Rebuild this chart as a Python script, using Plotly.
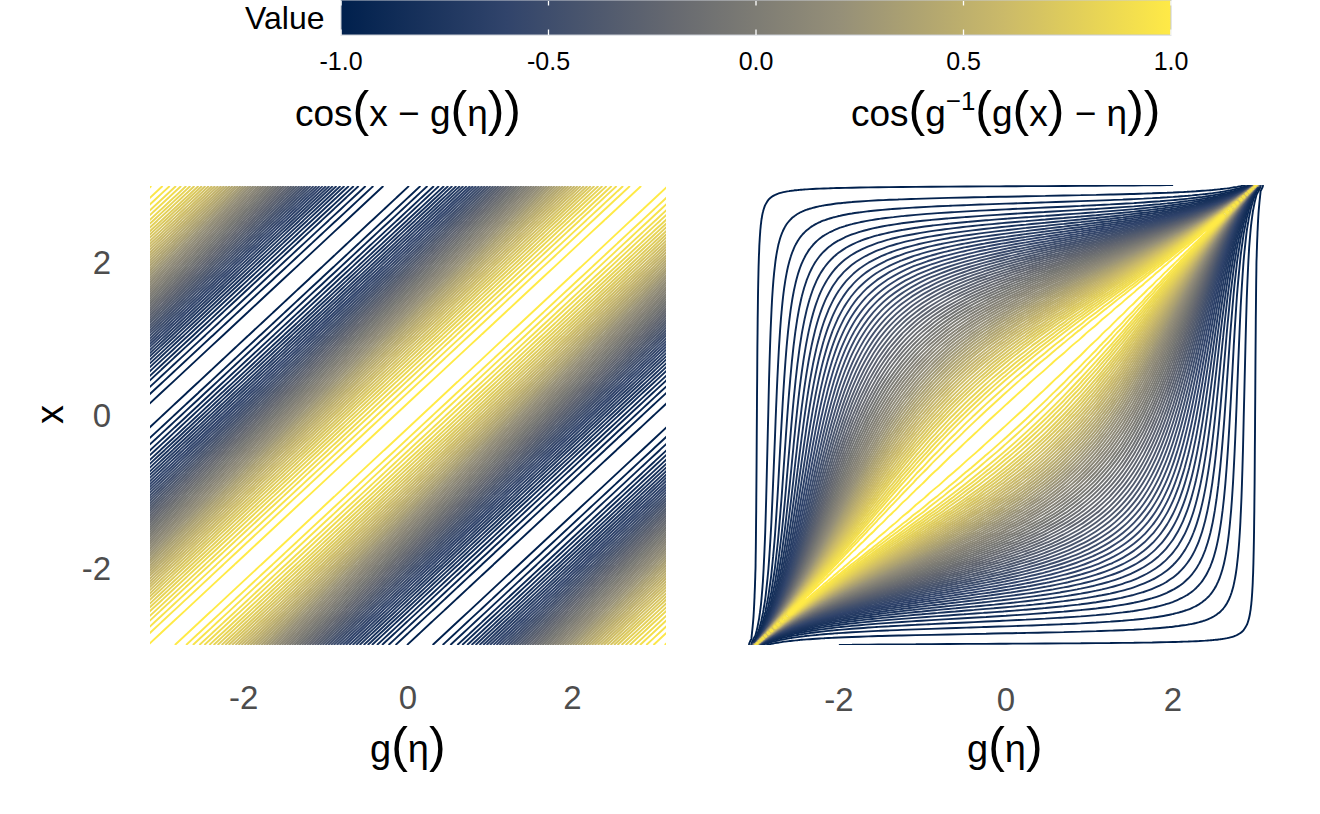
import plotly.graph_objects as go

# ---- values ----
civ_colors = ["#00204D", "#31446B", "#666970", "#958F78", "#CBBA69", "#FFEA46"]
bar_ticks = [-1.0, -0.5, 0.0, 0.5, 1.0]
bar_labels = ["-1.0", "-0.5", "0.0", "0.5", "1.0"]
bar_limits = [-1, 1]
axis_ticks = [-2, 0, 2]
axis_labels = ["-2", "0", "2"]

# contour levels
level_start = -0.9875
level_end = 0.99
level_step = 0.03036

# left panel: value across the diagonal bands, one step = 0.15 of (x - g)
band_profile = [1.0, 0.9888, 0.9553, 0.9004, 0.8253, 0.7317, 0.6216, 0.4976, 0.3624, 0.219,
                0.0707, -0.0791, -0.2272, -0.3702, -0.5048, -0.6282, -0.7374, -0.8301, -0.9041, -0.9578,
                -0.99, -1.0, -0.9875, -0.9502, -0.8968, -0.8205, -0.7259, -0.615, -0.4903, -0.3546,
                -0.2108, -0.0623, 0.0875, 0.2354, 0.378, 0.5121, 0.6347, 0.7431, 0.8347, 0.9076,
                0.9602, 0.9911]
left_g = [-3.15, -3.0, -2.85, -2.7, -2.55, -2.4, -2.25, -2.1, -1.95, -1.8, -1.65, -1.5, -1.35, -1.2,
          -1.05, -0.9, -0.75, -0.6, -0.45, -0.3, -0.15, 0.0, 0.15, 0.3, 0.45, 0.6, 0.75, 0.9, 1.05,
          1.2, 1.35, 1.5, 1.65, 1.8, 1.95, 2.1, 2.25, 2.4, 2.55, 2.7, 2.85, 3.0, 3.15]
left_x = left_g[1:-1]

# right panel: grid positions on both axes (mirrored about 0) and their place on the stretched scale
right_side = [0.0, 0.2389, 0.4712, 0.6911, 0.895, 1.0808, 1.248, 1.3973, 1.53, 1.6477, 1.7521, 1.845, 1.9276,
              2.0016, 2.0678, 2.1274, 2.1814, 2.2304, 2.2746, 2.315, 2.352, 2.386, 2.4172, 2.4466, 2.4734,
              2.4981, 2.5212, 2.5428, 2.563, 2.5818, 2.5998, 2.647, 2.6866, 2.7308, 2.7672, 2.8114, 2.8462,
              2.8826, 2.9112, 2.934, 2.957, 2.9802, 3.0, 3.049, 3.0896]
right_steps = list(range(31)) + [33, 36, 40, 44, 50, 56, 64, 72, 80, 90, 103, 118, 180, 320]
# value against the distance between two grid positions on that scale
ridge_profile = [1.0, 0.975, 0.8911, 0.7705, 0.6255, 0.4706, 0.3172, 0.1726, 0.0408, -0.0769,
                 -0.1803, -0.2707, -0.3493, -0.4176, -0.4768, -0.5283, -0.5733, -0.6125, -0.647, -0.6773,
                 -0.7041, -0.7279, -0.7491, -0.7679, -0.7848, -0.8, -0.8137, -0.826, -0.8373, -0.8474,
                 -0.8567, -0.8652, -0.873, -0.8801, -0.8867, -0.8927, -0.8983, -0.9034, -0.9082, -0.9127,
                 -0.9168, -0.9207, -0.9242, -0.9276, -0.9307, -0.9337, -0.9364, -0.939, -0.9415, -0.9438,
                 -0.9459, -0.948, -0.9499, -0.9517, -0.9535, -0.9551, -0.9567, -0.9581, -0.9595, -0.9609,
                 -0.9621, -0.9633, -0.9645, -0.9656, -0.9667, -0.9677, -0.9686, -0.9695, -0.9704, -0.9713,
                 -0.9721, -0.9728, -0.9736, -0.9743, -0.975, -0.9756, -0.9762, -0.9768, -0.9774, -0.978,
                 -0.9785, -0.9791, -0.9796, -0.98, -0.9805, -0.981, -0.9814, -0.9818, -0.9822, -0.9826,
                 -0.983, -0.9834, -0.9837, -0.9841, -0.9844, -0.9847, -0.985, -0.9854, -0.9856, -0.9859,
                 -0.9862, -0.9865, -0.9867, -0.987, -0.9872, -0.9875, -0.9877, -0.9879, -0.9882, -0.9884,
                 -0.9886, -0.9888, -0.989, -0.9892, -0.9894, -0.9896, -0.9897, -0.9899, -0.9901, -0.9902,
                 -0.9904, -0.9906, -0.9907, -0.9909, -0.991, -0.9912, -0.9913, -0.9914, -0.9916, -0.9917,
                 -0.9918, -0.9919, -0.9921, -0.9922, -0.9923, -0.9924, -0.9925, -0.9926, -0.9927, -0.9928,
                 -0.9929, -0.993, -0.9931, -0.9932, -0.9933, -0.9934, -0.9935, -0.9936, -0.9937, -0.9938,
                 -0.9938]

# the tables each contour trace needs
left_z = [[band_profile[abs(1 + i - j)] for j in range(len(left_g))] for i in range(len(left_x))]
right_pos = [-v for v in right_side[:0:-1]] + right_side
right_idx = [-v for v in right_steps[:0:-1]] + right_steps
# x stops at +-3, so its lines end there rather than running off the top
right_x = right_pos[2:-2]
right_x_idx = right_idx[2:-2]
last_step = len(ridge_profile) - 1
right_z = [[ridge_profile[min(abs(i - j), last_step)] for j in right_idx] for i in right_x_idx]

W, H = 1320, 814


def px_x(v):
    return v / W


def px_y(v):
    return 1 - v / H


scale = [[i / (len(civ_colors) - 1), c] for i, c in enumerate(civ_colors)]
levels = dict(coloring="lines", start=level_start, end=level_end, size=level_step)

fig = go.Figure()
fig.add_trace(go.Contour(x=left_g, y=left_x, z=left_z, contours=levels, colorscale=scale, zmin=-1, zmax=1,
                         line=dict(width=1.9, smoothing=0), showscale=False, xaxis="x", yaxis="y"))
fig.add_trace(go.Contour(x=right_pos, y=right_x, z=right_z, contours=levels, colorscale=scale, zmin=-1, zmax=1,
                         line=dict(width=1.9, smoothing=1), showscale=False, xaxis="x2", yaxis="y2"))

# colour bar
bar_left, bar_right = 341, 1171
fig.add_trace(go.Scatter(
    x=[None, None], y=[None, None], mode="markers", showlegend=False, hoverinfo="skip",
    marker=dict(color=bar_limits, cmin=-1, cmax=1, colorscale=scale, showscale=True,
                colorbar=dict(orientation="h", lenmode="pixels", len=bar_right - bar_left, thickness=35,
                              x=px_x((bar_left + bar_right) / 2), xanchor="center", y=1, yanchor="top",
                              xpad=0, ypad=0, outlinecolor="#C8CCD4", outlinewidth=1,
                              tickvals=bar_ticks, ticktext=bar_labels, ticks="outside", ticklen=5,
                              tickcolor="rgba(0,0,0,0)", tickfont=dict(family="Liberation Sans", size=25, color="black")))))

FONT = "Liberation Sans"


def paren(s, size):
    return f'<span style="font-size:{size}px">{s}</span>'


def label(text, x, y, size, color="black", angle=0):
    return dict(text=text, x=px_x(x), y=px_y(y), xref="paper", yref="paper", showarrow=False, textangle=angle,
                xanchor="center", yanchor="middle", font=dict(family=FONT, size=size, color=color))


P = 50
ann = [
    label("Value", 284, 18, 32),
    label("cos" + paren("(", P) + "x − g" + paren("(", P) + "η" + paren("))", P), 408, 109, 37),
    label("cos" + paren("(", P) + "g<sup>−1</sup>" + paren("(", P) + "g" + paren("(", P) + "x" + paren(")", P)
          + " − η" + paren("))", P), 1005, 109, 37),
    label("g" + paren("(", P) + "η" + paren(")", P), 408, 745, 38),
    label("g" + paren("(", P) + "η" + paren(")", P), 1005, 745, 38),
    label("x", 50, 415, 38, angle=-90),
]
# white tick marks inside the colour bar, top and bottom
for t in bar_ticks:
    tx = px_x(bar_left + (t + 1) / 2 * (bar_right - bar_left))
    for ty, off in [(0, 7), (35, -7)]:
        ann.append(dict(text="", x=tx, y=px_y(ty), xref="paper", yref="paper", showarrow=True, arrowhead=0,
                        arrowwidth=1.3, arrowcolor="white", ax=0, ay=off, standoff=0))

tick_font = dict(family=FONT, size=33, color="#4D4D4D")
base_axis = dict(showgrid=False, zeroline=False, showline=False, ticks="", tickmode="array",
                 tickvals=axis_ticks, ticktext=axis_labels, tickfont=tick_font, ticklabelstandoff=30)
fig.update_layout(
    width=W, height=H, margin=dict(l=0, r=0, t=0, b=0), autosize=False,
    paper_bgcolor="white", plot_bgcolor="white", showlegend=False,
    annotations=ann,
    xaxis=dict(base_axis, domain=[px_x(150), px_x(666)], range=[-3.14, 3.14], anchor="y"),
    yaxis=dict(base_axis, domain=[px_y(645), px_y(186)], range=[-3, 3], anchor="x", ticklabelstandoff=38),
    xaxis2=dict(base_axis, domain=[px_x(746), px_x(1266)], range=[-3.114, 3.114], anchor="y2"),
    yaxis2=dict(base_axis, domain=[px_y(646.5), px_y(183.5)], range=[-3.02, 3.02], anchor="x2", showticklabels=False),
)

fig.write_html("out.html", post_script="document.body.style.margin='0';", config={"displayModeBar": False})
